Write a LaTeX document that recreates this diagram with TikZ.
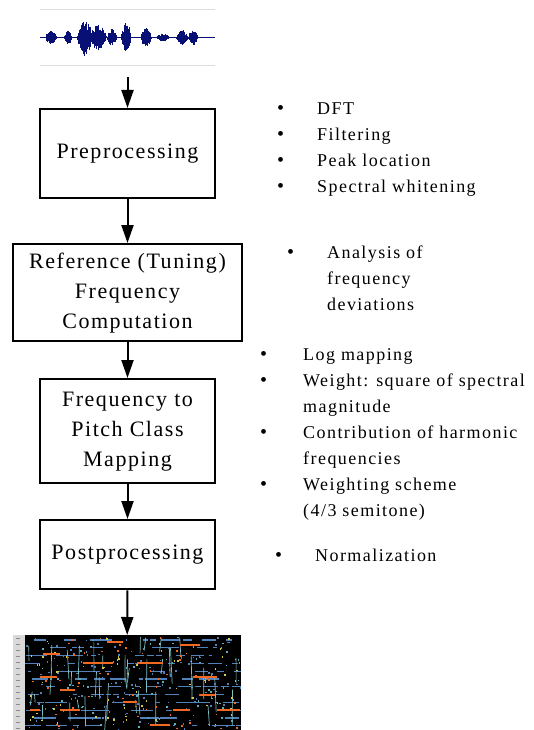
\documentclass[tikz,border=0pt]{standalone}
\usepackage{fontspec}
\setmainfont{Liberation Serif}
\newfontfamily\boxfont[LetterSpace=7]{Liberation Serif}
\newfontfamily\listfont[LetterSpace=8]{Liberation Serif}
\usetikzlibrary{arrows.meta}
\definecolor{waveBlue}{RGB}{8,16,118}
\definecolor{waveGrey}{RGB}{222,222,222}
\definecolor{chromaOrange}{RGB}{240,105,35}
\definecolor{chromaBlue}{RGB}{80,130,185}
\definecolor{chromaYellow}{RGB}{215,200,70}
\definecolor{chromaTeal}{RGB}{90,175,180}
\newcommand{\lBullet}{{\fontsize{20}{20}\selectfont\textbullet}}
\pgfmathdeclarerandomlist{dotcols}{{chromaBlue}{chromaTeal}{chromaYellow}{chromaBlue}{chromaOrange}}

\begin{document}
\begin{tikzpicture} [
        x=1pt, y=-1pt,
        stage/.style={draw, line width=2.4pt, anchor=north, minimum width=175pt, inner sep=0pt, align=center, font=\boxfont\fontsize{22}{30}\selectfont},
        arrow/.style={line width=2pt, -{Triangle[length=18pt,width=12pt]}},
        items/.style={anchor=base west, inner sep=0pt, font=\listfont\fontsize{18}{26}\selectfont}
    ]
    \useasboundingbox (0,0) rectangle (533,730);

    % input signal
    \node[minimum width=175pt, minimum height=55pt, inner sep=0pt] (wave) at (127.5,37.5) {};
    \draw[waveGrey, line width=0.8pt] (wave.north west) -- (wave.north east) (wave.south west) -- (wave.south east);
    \draw[waveBlue, line width=0.6pt] (wave.west) -- (wave.east);
    \pgfmathsetseed{3}
    \foreach \c/\w/\a in {51/6/7, 68/4/7, 85/8/19, 98/9/13, 112/5/9, 126/5/16, 146/6/10, 163/7/4, 182/6/8, 193/5/8} {
        \foreach \i in {-14,...,14} {
            \pgfmathsetmacro{\env}{\a*(1-(\i/14)^2)}
            \pgfmathsetmacro{\up}{\env*(0.35+0.65*rnd)}
            \pgfmathsetmacro{\dn}{\env*(0.35+0.65*rnd)}
            \draw[waveBlue, line width=0.7pt] ({\c+\i*\w/14}, {37.5-\up}) -- ({\c+\i*\w/14}, {37.5+\dn});
        }
    }

    % processing stages
    \node[stage, minimum height=89pt] (prep) at (127.5,108) {Preprocessing};
    \node[stage, minimum width=229pt, minimum height=97pt] (tuning) at (127.5,243) {Reference (Tuning)\\Frequency\\Computation};
    \node[stage, minimum height=104pt] (mapping) at (127.5,378) {Frequency to\\Pitch Class\\Mapping};
    \node[stage, minimum height=69pt] (post) at (127.5,519) {Postprocessing};

    % output chromagram
    \node[fill=black, minimum width=228pt, minimum height=95pt, inner sep=0pt, anchor=north] (chroma) at (127,635) {};
    \fill[black!15] (chroma.north west) rectangle ([xshift=12pt]chroma.south west);
    \foreach \t in {0,...,15} \draw[black!45, line width=0.5pt] (16,{638+\t*6}) -- (20,{638+\t*6});
    \begin{scope}
        \clip (25,635) rectangle (241,730);
        \pgfmathsetseed{11}
        \foreach \r in {0,...,11} {
            \foreach \k in {1,...,16} {
                \pgfmathsetmacro{\xa}{25+214*rnd}
                \pgfmathsetmacro{\len}{3+12*rnd}
                \draw[chromaBlue, line width=1.2pt] (\xa,{640+\r*7.8}) -- ({\xa+\len},{640+\r*7.8});
            }
        }
        \foreach \k in {1,...,40} {
            \pgfmathsetmacro{\xa}{27+212*rnd}
            \pgfmathsetmacro{\ya}{636+70*rnd}
            \pgfmathsetmacro{\len}{8+30*rnd}
            \draw[chromaTeal!80, line width=0.7pt] (\xa,\ya) -- ({\xa+4*rnd-2},{\ya+\len});
        }
        \foreach \k in {1,...,320} {
            \pgfmathsetmacro{\xa}{26+214*rnd}
            \pgfmathsetmacro{\ya}{636+93*rnd}
            \pgfmathrandomitem{\col}{dotcols}
            \fill[\col] (\xa,\ya) rectangle ({\xa+1.6},{\ya+1.6});
        }
        \foreach \xa/\xb/\ya in {107/123/642, 43/60/654, 83/113/663, 137/163/663, 40/57/677, 193/217/677, 123/137/702, 30/40/710, 60/80/710, 173/190/710, 217/240/710, 150/170/725, 180/200/645, 60/75/690, 200/215/695} {
            \draw[chromaOrange, line width=2pt] (\xa,\ya) -- (\xb,\ya);
        }
    \end{scope}

    % connectors
    \draw[arrow, shorten <=12pt] (wave) -- (prep);
    \foreach \a/\b in {prep/tuning, tuning/mapping, mapping/post, post/chroma} {
        \draw[arrow] (\a) -- (\b);
    }

    % notes on each stage
    \node[items] (prep items) at (277,115) {\begin{tabular}[t]{@{}p{40pt}@{}l@{}}
        \lBullet & DFT\\ \lBullet & Filtering\\ \lBullet & Peak location\\ \lBullet & Spectral whitening
    \end{tabular}};
    \node[items] (tuning items) at (287,258) {\begin{tabular}[t]{@{}p{40pt}@{}l@{}}
        \lBullet & Analysis of\\ & frequency\\ & deviations
    \end{tabular}};
    \node[items] (mapping items) at (260,360) {\begin{tabular}[t]{@{}p{43pt}@{}l@{}}
        \lBullet & Log mapping\\ \lBullet & Weight: square of spectral\\ & magnitude\\
        \lBullet & Contribution of harmonic\\ & frequencies\\
        \lBullet & Weighting scheme\\ & (4/3 semitone)
    \end{tabular}};
    \node[items] (post items) at (275,561) {\begin{tabular}[t]{@{}p{40pt}@{}l@{}}
        \lBullet & Normalization
    \end{tabular}};

\end{tikzpicture}
\end{document}
